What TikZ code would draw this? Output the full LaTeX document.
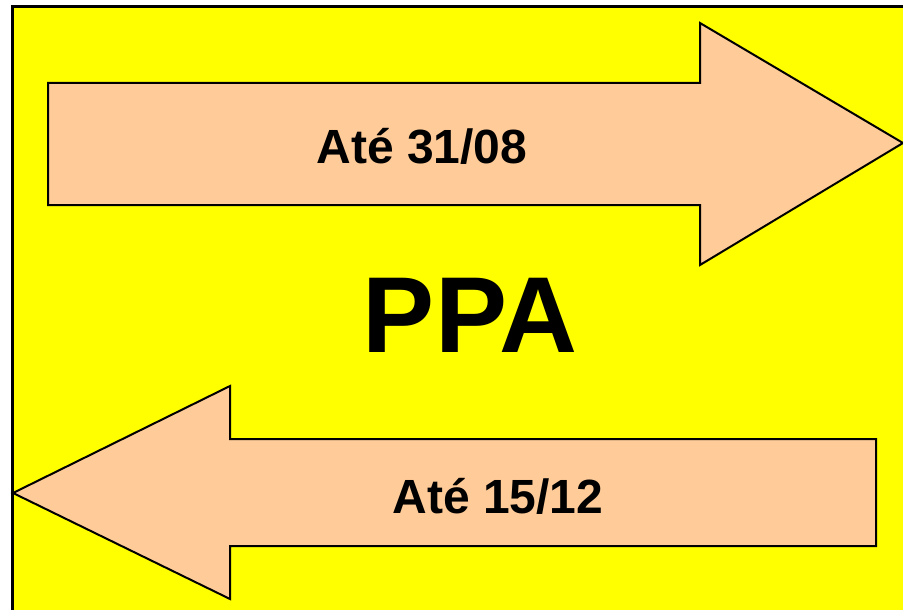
\documentclass[tikz,border=0pt]{standalone}
\usepackage{fontspec}
\setmainfont{Liberation Sans}
\definecolor{peach}{HTML}{FFCC99}
\definecolor{bgyellow}{HTML}{FFFF00}
\tikzset{
  datelabel/.style={font=\bfseries\fontsize{48}{48}\selectfont,anchor=base,inner sep=0pt},
  bigarrow/.style={line width=2pt,fill=peach,line join=miter}
}
\begin{document}
\begin{tikzpicture}[x=1pt,y=-1pt]
\useasboundingbox (0,0) rectangle (903,610);
\clip (0,0) rectangle (903,610);
\draw [line width=3pt,fill=bgyellow] (12,7) rectangle (930,640);

% arrow to the right
\draw [bigarrow] (48,83)-- (700,83)-- (700,23)-- (903,143)-- (700,265)-- (700,205)-- (48,205)-- cycle;
% arrow to the left
\draw [bigarrow] (876,439)-- (230,439)-- (230,386)-- (13,493)-- (230,599)-- (230,546)-- (876,546)-- cycle;

\node [datelabel] (datefwd) at (422,163) {Até 31/08};
\node [font=\bfseries\fontsize{108}{108}\selectfont,anchor=base,inner sep=0pt] (ppa) at (470,352) {PPA};
\node [datelabel] (dateback) at (498,513) {Até 15/12};
\end{tikzpicture}
\end{document}
